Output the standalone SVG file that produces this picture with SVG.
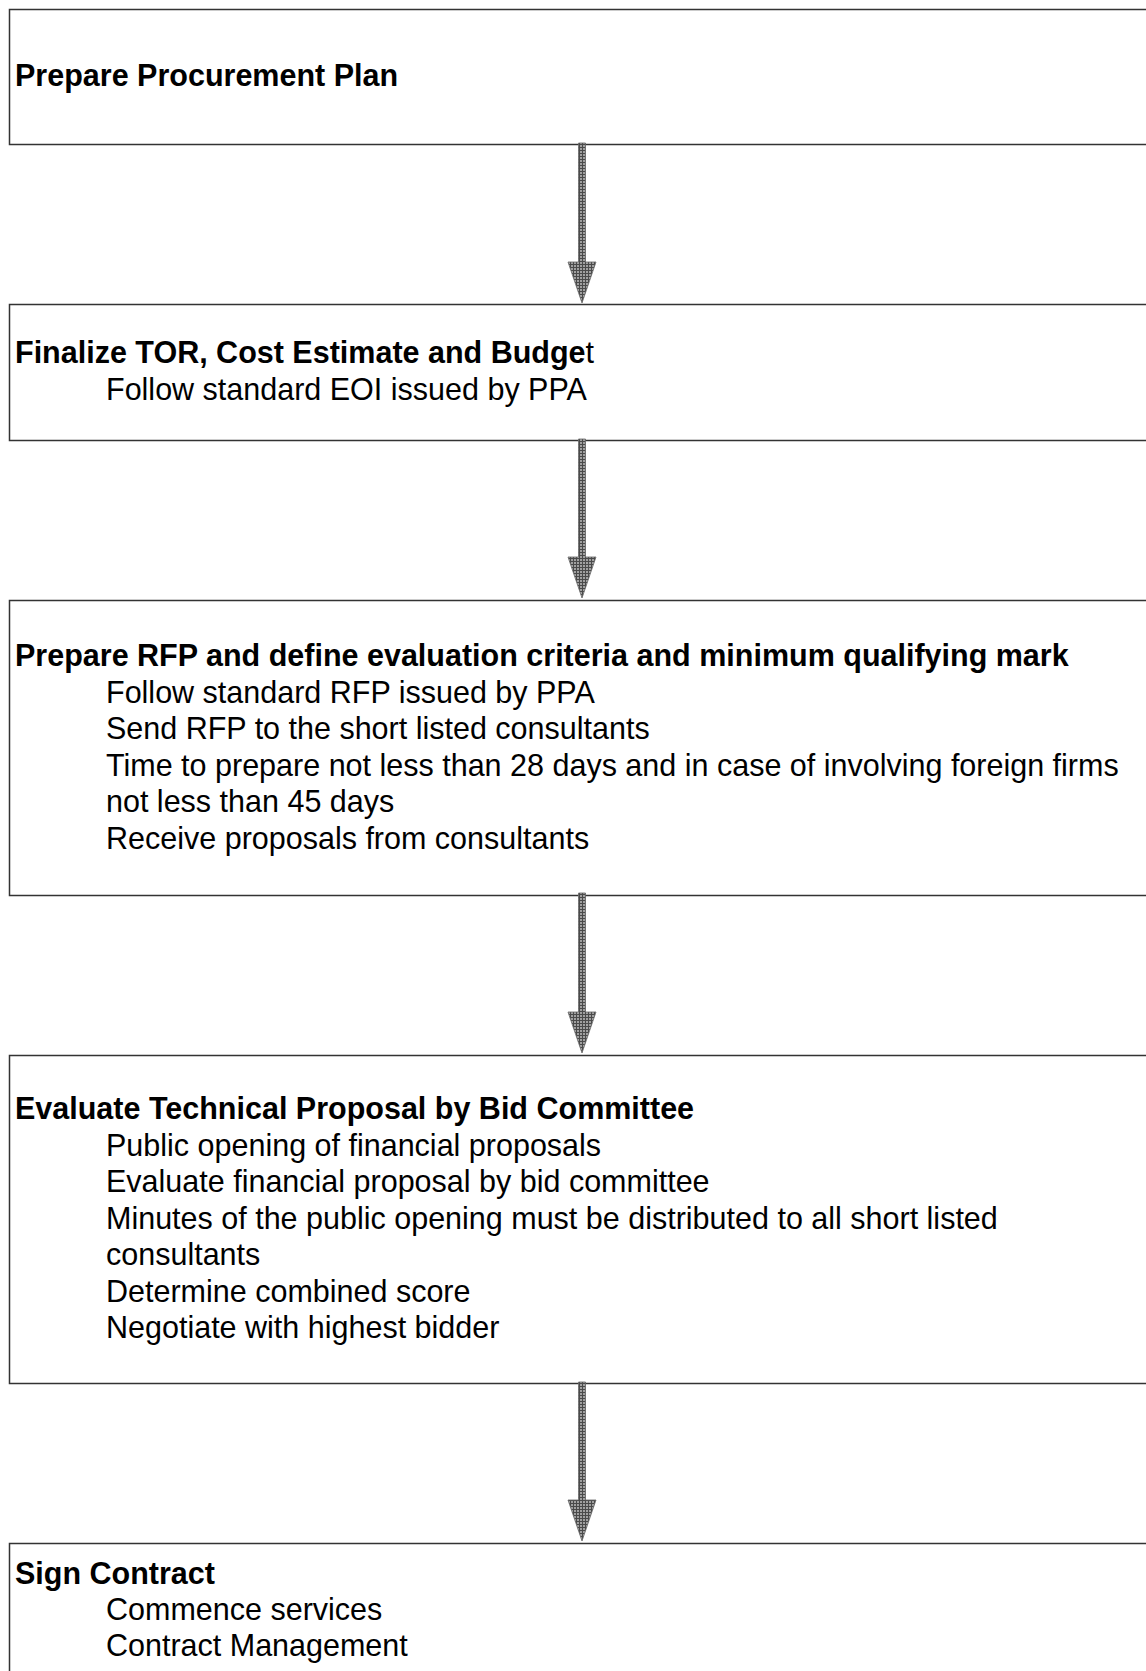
<svg xmlns="http://www.w3.org/2000/svg" width="1146" height="1671" viewBox="0 0 1146 1671">
<defs>
<pattern id="hatch" width="3" height="3" patternUnits="userSpaceOnUse">
<rect width="3" height="3" fill="#a0a0a0"/>
<path d="M0 0.5H3M0.5 0V3" stroke="#4a4a4a" stroke-width="1"/>
</pattern>
<style>
.box{fill:#fff;stroke:#333;stroke-width:1.5}
.t{font-family:"Liberation Sans",Arial,sans-serif;font-size:30.5px;fill:#000}
.b{font-weight:bold}
.arrow{fill:url(#hatch);stroke:#666;stroke-width:0.8}
</style>
</defs>
<rect width="1146" height="1671" fill="#fff"/>
<g id="node1">
<rect class="box" x="9.5" y="9.5" width="1160" height="135"/>
<text class="t b" x="15" y="86">Prepare Procurement Plan</text>
</g>
<g id="node2">
<rect class="box" x="9.5" y="304.5" width="1160" height="136"/>
<text class="t" x="15" y="363"><tspan class="b">Finalize TOR, Cost Estimate and Budge</tspan>t</text>
<text class="t" x="106" y="399.5">Follow standard EOI issued by PPA</text>
</g>
<g id="node3">
<rect class="box" x="9.5" y="600.5" width="1160" height="295"/>
<text class="t b" x="15" y="666">Prepare RFP and define evaluation criteria and minimum qualifying mark</text>
<text class="t" x="106" y="702.5">Follow standard RFP issued by PPA</text>
<text class="t" x="106" y="739">Send RFP to the short listed consultants</text>
<text class="t" x="106" y="775.5">Time to prepare not less than 28 days and in case of involving foreign firms</text>
<text class="t" x="106" y="812">not less than 45 days</text>
<text class="t" x="106" y="848.5">Receive proposals from consultants</text>
</g>
<g id="node4">
<rect class="box" x="9.5" y="1055.5" width="1160" height="328"/>
<text class="t b" x="15" y="1119">Evaluate Technical Proposal by Bid Committee</text>
<text class="t" x="106" y="1155.5">Public opening of financial proposals</text>
<text class="t" x="106" y="1192">Evaluate financial proposal by bid committee</text>
<text class="t" x="106" y="1228.5">Minutes of the public opening must be distributed to all short listed</text>
<text class="t" x="106" y="1265">consultants</text>
<text class="t" x="106" y="1301.5">Determine combined score</text>
<text class="t" x="106" y="1338">Negotiate with highest bidder</text>
</g>
<g id="node5">
<rect class="box" x="9.5" y="1543.5" width="1160" height="200" stroke="#000"/>
<text class="t b" x="15" y="1584">Sign Contract</text>
<text class="t" x="106" y="1620">Commence services</text>
<text class="t" x="106" y="1656">Contract Management</text>
</g>
<g id="connectors">
<path class="arrow" d="M578.5 143H585.5V262H596L582 303L568 262H578.5Z"/>
<path class="arrow" d="M578.5 439H585.5V557H596L582 598L568 557H578.5Z"/>
<path class="arrow" d="M578.5 893H585.5V1012H596L582 1053L568 1012H578.5Z"/>
<path class="arrow" d="M578.5 1382H585.5V1500H596L582 1541L568 1500H578.5Z"/>
</g>
</svg>
